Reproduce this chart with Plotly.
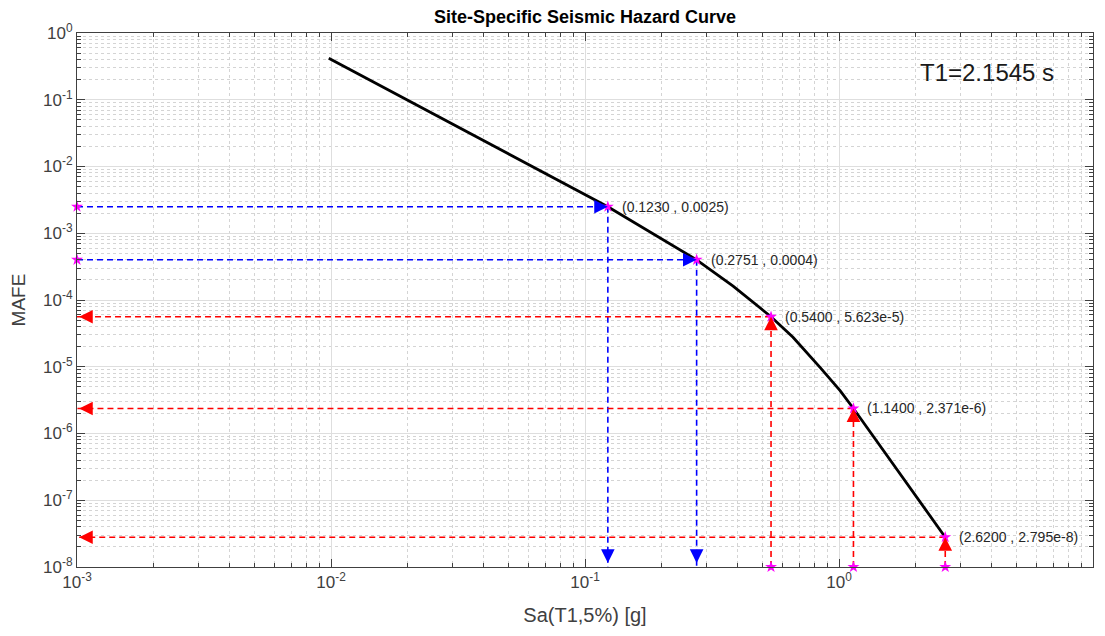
import math
import plotly.graph_objects as go

# Hazard curve
curve_sa = [0.0098, 0.03, 0.123, 0.2751, 0.383, 0.54, 0.659, 0.842, 1.01, 1.14, 2.62]
curve_mafe = [0.42, 0.044, 0.0025, 0.0004, 1.61e-4, 5.623e-5, 2.77e-5, 9.8e-6, 4.4e-6, 2.371e-6, 2.795e-8]

# Marked points
blue_sa = [0.1230, 0.2751]
blue_mafe = [0.0025, 0.0004]
blue_labels = ["(0.1230 , 0.0025)", "(0.2751 , 0.0004)"]
red_sa = [0.5400, 1.1400, 2.6200]
red_mafe = [5.623e-5, 2.371e-6, 2.795e-8]
red_labels = ["(0.5400 , 5.623e-5)", "(1.1400 , 2.371e-6)", "(2.6200 , 2.795e-8)"]

x_exps = [-3, -2, -1, 0, 1]
y_exps = [-8, -7, -6, -5, -4, -3, -2, -1, 0]
XMIN, YMIN = 1e-3, 1e-8
FONT = "Liberation Sans, Arial, Helvetica, sans-serif"
BLUE, RED, MAG = "#0000ff", "#ff0000", "#ff00ff"

# page has an 8px body margin; figure sized to fit the window
W, H = 1097, 628

def pow_label(e):
    return "10<sup>%d</sup>" % e

fig = go.Figure()

# guide lines
for sa, m in zip(blue_sa, blue_mafe):
    fig.add_trace(go.Scatter(x=[XMIN, sa], y=[m, m], mode="lines",
                             line=dict(color=BLUE, width=1.6, dash="6px,4px"),
                             showlegend=False, hoverinfo="skip"))
    fig.add_trace(go.Scatter(x=[sa, sa], y=[m, YMIN], mode="lines",
                             line=dict(color=BLUE, width=1.6, dash="6px,4px"),
                             showlegend=False, hoverinfo="skip"))
for sa, m in zip(red_sa, red_mafe):
    fig.add_trace(go.Scatter(x=[sa, sa], y=[YMIN, m], mode="lines",
                             line=dict(color=RED, width=1.6, dash="6px,4px"),
                             showlegend=False, hoverinfo="skip"))
    fig.add_trace(go.Scatter(x=[sa, XMIN], y=[m, m], mode="lines",
                             line=dict(color=RED, width=1.6, dash="6px,4px"),
                             showlegend=False, hoverinfo="skip"))

# curve
fig.add_trace(go.Scatter(x=curve_sa, y=curve_mafe, mode="lines",
                         line=dict(color="black", width=2.8), showlegend=False))

# arrowheads (tip at target, short tail offset in pixels)
def arrow(xv, yv, ax, ay, color):
    fig.add_annotation(x=math.log10(xv), y=math.log10(yv), xref="x", yref="y",
                       ax=ax, ay=ay, axref="pixel", ayref="pixel", text="",
                       showarrow=True, arrowhead=2, arrowsize=1.7, arrowwidth=1.6,
                       arrowcolor=color, standoff=0)

for sa, m in zip(blue_sa, blue_mafe):
    arrow(sa, m, -12, 0, BLUE)
    arrow(sa, YMIN * 1.15, 0, -12, BLUE)
for sa, m in zip(red_sa, red_mafe):
    arrow(sa, m, 0, 12, RED)
    arrow(XMIN * 1.02, m, 12, 0, RED)

# magenta markers
mag_x = blue_sa + [XMIN] * len(blue_sa) + red_sa + red_sa
mag_y = blue_mafe + blue_mafe + red_mafe + [YMIN] * len(red_sa)
fig.add_trace(go.Scatter(x=mag_x, y=mag_y, mode="markers",
                         marker=dict(symbol="star", size=9, color=MAG),
                         showlegend=False, cliponaxis=False))

# labels
for sa, m, t in zip(blue_sa + red_sa, blue_mafe + red_mafe, blue_labels + red_labels):
    fig.add_annotation(x=math.log10(sa), y=math.log10(m), text=t, showarrow=False,
                       xanchor="left", yanchor="middle", xshift=12,
                       font=dict(family=FONT, size=14, color="#262626"))

fig.add_annotation(x=(987 - 77) / 1016, y=1 - (73 - 33) / 534, xref="paper", yref="paper",
                   text="T1=2.1545 s", showarrow=False, xanchor="center", yanchor="middle",
                   font=dict(family=FONT, size=24, color="#1a1a1a"))

minor_x = [m * 10 ** e for e in x_exps[:-1] for m in range(2, 10)]
minor_y = [m * 10 ** e for e in y_exps[:-1] for m in range(2, 10)]

axis_common = dict(
    type="log", showline=True, linecolor="#404040", linewidth=1, mirror="ticks",
    ticks="inside", ticklen=8, tickcolor="#404040", tickwidth=1, automargin=False,
    showgrid=True, gridcolor="#dedede", gridwidth=1, zeroline=False,
    tickfont=dict(family=FONT, size=17, color="#404040"),
)

fig.update_xaxes(**axis_common, range=[-3, 1],
                 tickmode="array", tickvals=[10.0 ** e for e in x_exps],
                 ticktext=[pow_label(e) for e in x_exps],
                 minor=dict(tickmode="array", tickvals=minor_x, ticks="inside", ticklen=4,
                            tickcolor="#404040", showgrid=True, gridcolor="#d4d4d4", griddash="dot"),
                 title=dict(text="Sa(T1,5%) [g]", standoff=16,
                            font=dict(family=FONT, size=20, color="#404040")))
fig.update_yaxes(**axis_common, range=[-8, 0],
                 tickmode="array", tickvals=[10.0 ** e for e in y_exps],
                 ticktext=[pow_label(e) for e in y_exps],
                 minor=dict(tickmode="array", tickvals=minor_y, ticks="inside", ticklen=4,
                            tickcolor="#404040", showgrid=True, gridcolor="#d4d4d4", griddash="dot"),
                 title=dict(text="MAFE", standoff=12,
                            font=dict(family=FONT, size=19, color="#404040")))

fig.update_layout(
    width=W, height=H,
    margin=dict(l=69, r=12, t=25, b=69),
    paper_bgcolor="white", plot_bgcolor="white",
    title=dict(text="<b>Site-Specific Seismic Hazard Curve</b>", x=577 / W, xanchor="center",
               y=1 - 9 / H, yanchor="middle", automargin=False,
               font=dict(family=FONT, size=18, color="black")),
    showlegend=False,
)

fig.write_html("out.html")
